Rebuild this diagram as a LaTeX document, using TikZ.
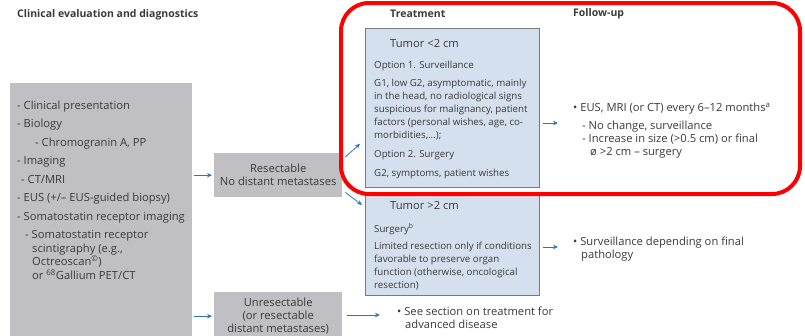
\documentclass[tikz,border=0pt]{standalone}
\usepackage{fontspec}
\setmainfont{Open Sans}
\usetikzlibrary{arrows.meta,calc,positioning}
\definecolor{boxgray}{HTML}{C0C0C4}
\definecolor{boxblue}{HTML}{D5E0EE}
\definecolor{edgegray}{HTML}{7A7A7A}
\definecolor{arrowblue}{HTML}{2F75B5}
\definecolor{txt}{HTML}{3A3A3A}
\newcommand{\fs}{\fontsize{11.2}{13}\selectfont}
\newcommand{\fsb}{\fontsize{9.7}{13}\selectfont}
\tikzset{
  graybox/.style={fill=boxgray, draw=none, inner sep=0pt},
  bluebox/.style={fill=boxblue, draw=edgegray, line width=0.8pt, inner sep=0pt},
  arr/.style={-{Stealth[length=5pt,width=4.5pt]}, arrowblue, line width=0.8pt},
  lbl/.style={font=\fs, text=txt, inner sep=0pt, align=left},
  body/.style={lbl, font=\fsb},
  head/.style={font=\fontsize{10.5}{12}\selectfont\bfseries, text=txt, inner sep=0pt}
}

\begin{document}
\begin{tikzpicture}[x=1pt, y=-1pt]
  \useasboundingbox (0,0) rectangle (805,335);
  \clip (0,0) rectangle (805,335);
  % Column headings
  \node[head, anchor=west] (hclin) at (17,15) {Clinical evaluation and diagnostics};
  \node[head, anchor=west] (htreat) at (390,14) {Treatment};
  \node[head, anchor=west] (hfollow) at (573,14) {Follow-up};

  % Clinical evaluation box (base = last line)
  \node[graybox, anchor=north west, minimum width=182pt, minimum height=270pt] (clin) at (10,83) {};
  \node[lbl, font=\fontsize{11.2}{13.5}\selectfont, anchor=base west] (clintext) at (17,279)
    {- Clinical presentation\\[5pt]
     - Biology\\[5pt]
     \hspace*{18pt}- Chromogranin A, PP\\[5pt]
     - Imaging\\[5pt]
     \hspace*{4pt}- CT/MRI\\[5pt]
     - EUS (+/– EUS-guided biopsy)\\[5pt]
     - Somatostatin receptor imaging\\[5pt]
     \hspace*{8pt}- Somatostatin receptor\\
     \hspace*{15pt}scintigraphy (e.g.,\\
     \hspace*{15pt}Octreoscan\textsuperscript{©})\\
     \hspace*{15pt}or \textsuperscript{68}Gallium PET/CT};

  % Resectability boxes
  \node[graybox, lbl, align=center, anchor=north west, minimum width=128pt, minimum height=44pt] (res) at (214,153)
    {Resectable\\No distant metastases};
  \node[graybox, lbl, align=center, anchor=north west, minimum width=128pt, minimum height=48pt] (unres) at (214,292)
    {Unresectable\\(or resectable\\distant metastases)};

  % Treatment boxes
  \node[bluebox, anchor=north west, minimum width=174pt, minimum height=159pt] (small) at (365,28) {};
  \node[lbl, anchor=base west] (smalltitle) at (390,47) {Tumor <2 cm};
  \node[body, anchor=base west] (opt1) at (374,68) {Option 1. Surveillance};
  \node[body, anchor=base west] (opt1text) at (374,138)
    {G1, low G2, asymptomatic, mainly\\
     in the head, no radiological signs\\
     suspicious for malignancy, patient\\
     factors (personal wishes, age, co-\\
     morbidities,...);};
  \node[body, anchor=base west] (opt2) at (374,157) {Option 2. Surgery};
  \node[body, anchor=base west] (opt2text) at (374,176) {G2, symptoms, patient wishes};

  \node[bluebox, anchor=north west, minimum width=174pt, minimum height=103pt] (big) at (365,192) {};
  \node[lbl, anchor=base west] (bigtitle) at (390,209) {Tumor >2 cm};
  \node[body, anchor=base west] (surg) at (374,232) {Surgery\textsuperscript{b}};
  \node[body, anchor=base west] (surgtext) at (374,288)
    {Limited resection only if conditions\\
     favorable to preserve organ\\
     function (otherwise, oncological\\
     resection)};

  % Follow-up and advanced disease
  \node[lbl, anchor=base west] (fuA) at (573,155)
    {\textbullet\ EUS, MRI (or CT) every 6–12 months\textsuperscript{a}\\[5pt]
     \hspace*{9pt}- No change, surveillance\\
     \hspace*{9pt}- Increase in size (>0.5 cm) or final\\
     \hspace*{17pt}ø >2 cm – surgery};
  \node[lbl, anchor=base west] (fuB) at (573,258)
    {\textbullet\ Surveillance depending on final\\
     \hspace*{8pt}pathology};
  \node[lbl, anchor=base west] (adv) at (397,328)
    {\textbullet\ See section on treatment for\\
     \hspace*{8pt}advanced disease};

  % Arrows
  \coordinate (fa1) at (558,123);
  \coordinate (fa2) at (558,247);
  \coordinate (fa3) at (380,315);
  \draw[arr, shorten <=2pt, shorten >=2pt] (clin.east |- res.west) -- (res.west);
  \draw[arr, shorten <=2pt, shorten >=2pt] (clin.east |- unres.west) -- (unres.west);
  \draw[arr] ([xshift=3pt,yshift=-4pt]res.north east) -- ([xshift=-5pt,yshift=44pt]small.south west);
  \draw[arr] ([xshift=3pt,yshift=5pt]res.south east) -- ([xshift=-3pt,yshift=-13pt]big.north west);
  \draw[arr, shorten <=3pt] (small.east |- fa1) -- (fa1);
  \draw[arr, shorten <=3pt] (big.east |- fa2) -- (fa2);
  \draw[arr, shorten <=5pt] (unres.east |- fa3) -- (fa3);

  % Red highlight
  \draw[red, line width=4pt, rounded corners=28pt] (341,3) rectangle (800,194);
\end{tikzpicture}
\end{document}
